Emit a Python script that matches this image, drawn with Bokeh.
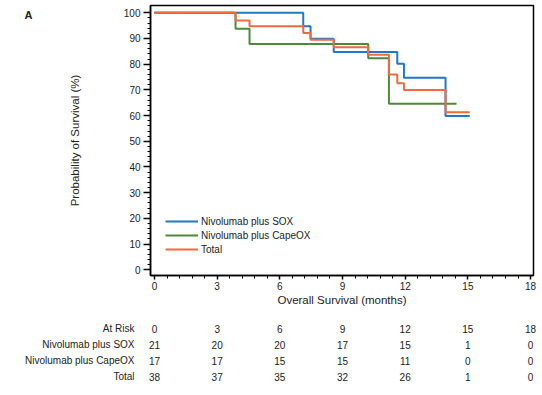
from bokeh.plotting import figure
from bokeh.models import Range1d, FixedTicker, Legend, LegendItem, ColumnDataSource
from bokeh.layouts import column, row
from bokeh.embed import file_html
from bokeh.resources import INLINE
from bokeh.core.properties import value

FONT = "Liberation Sans"

# Kaplan-Meier step data (months, survival %)
sox_time = [0, 7.12, 7.47, 8.58, 11.62, 11.94, 13.93, 15.09]
sox_surv = [100, 94.8, 89.9, 84.7, 80.2, 74.7, 59.8, 59.8]
capeox_time = [0, 3.88, 4.55, 10.23, 11.22, 14.46]
capeox_surv = [100, 93.8, 87.9, 82.3, 64.6, 64.6]
total_time = [0, 3.88, 4.55, 7.12, 7.47, 8.58, 10.23, 11.22, 11.62, 11.94, 13.93, 15.09]
total_surv = [100, 97.0, 94.8, 92.1, 89.5, 86.6, 83.7, 76.0, 72.6, 70.0, 61.3, 61.3]

series_names = ["Nivolumab plus SOX", "Nivolumab plus CapeOX", "Total"]
colors = ["#1f78c8", "#4c8a3a", "#f26a3b"]

x_ticks = [0, 3, 6, 9, 12, 15, 18]
y_ticks = [0, 10, 20, 30, 40, 50, 60, 70, 80, 90, 100]

# number at risk
risk_rows = ["At Risk", "Nivolumab plus SOX", "Nivolumab plus CapeOX", "Total"]
risk_sox = [21, 20, 20, 17, 15, 1, 0]
risk_capeox = [17, 17, 15, 15, 11, 0, 0]
risk_total = [38, 37, 35, 32, 26, 1, 0]

# panel letter figure
pa = figure(width=40, height=312, output_backend="svg", toolbar_location=None,
            x_range=Range1d(0, 40), y_range=Range1d(0, 312),
            x_axis_location=None, y_axis_location=None,
            min_border_left=0, min_border_right=0, min_border_top=0, min_border_bottom=0)
pa.grid.visible = False
pa.outline_line_color = None
pa.text(x=[28], y=[301], text=["A"], text_font=value(FONT), text_font_size="11px",
        text_font_style="bold", text_align="center", text_baseline="middle",
        text_color="#222222")

p = figure(width=502, height=312, output_backend="svg", toolbar_location=None,
           x_range=Range1d(-0.19, 18.14), y_range=Range1d(-2.22, 102.84),
           min_border_left=110, min_border_right=9, min_border_top=5, min_border_bottom=37)
p.grid.visible = False
p.outline_line_color = "black"
p.outline_line_width = 1.5

renderers = []
for (t, s), c in zip([(sox_time, sox_surv), (capeox_time, capeox_surv), (total_time, total_surv)], colors):
    r = p.step(t, s, mode="after", line_color=c, line_width=2)
    renderers.append(r)

minor_x = [i * 0.6 for i in range(31)]
minor_y = [i * 2 for i in range(51)]
p.xaxis.ticker = FixedTicker(ticks=x_ticks, minor_ticks=minor_x)
p.yaxis.ticker = FixedTicker(ticks=y_ticks, minor_ticks=minor_y)

for ax in (p.xaxis[0], p.yaxis[0]):
    ax.axis_line_width = 1.5
    ax.axis_line_color = "black"
    ax.major_tick_line_color = "black"
    ax.minor_tick_line_color = "black"
    ax.major_tick_line_width = 1.5
    ax.major_tick_in = 0
    ax.minor_tick_in = 0
    ax.minor_tick_out = 3
    ax.major_label_text_font = FONT
    ax.major_label_text_font_size = "10px"
    ax.major_label_text_color = "#222222"
    ax.axis_label_text_font = FONT
    ax.axis_label_text_font_size = "11.5px"
    ax.axis_label_text_font_style = "normal"
    ax.axis_label_text_color = "#222222"

p.xaxis.axis_label = "Overall Survival (months)"
p.xaxis.major_tick_out = 4
p.xaxis.major_label_standoff = 2
p.xaxis.axis_label_standoff = 1

p.yaxis.axis_label = "Probability of Survival (%)"
p.yaxis.major_tick_out = 7
p.yaxis.major_label_standoff = 3
p.yaxis.axis_label_standoff = 40

legend = Legend(items=[LegendItem(label=n, renderers=[r]) for n, r in zip(series_names, renderers)],
                location=(15, 19), border_line_color=None, background_fill_alpha=0,
                padding=0, margin=0, spacing=0, glyph_width=33, glyph_height=14,
                label_height=14, label_standoff=3,
                label_text_font=FONT, label_text_font_size="10px", label_text_color="#222222")
p.add_layout(legend)

# at-risk table (frame spans the full width; x in months, same scale as the plot)
row_pos = [3.5, 2.5, 1.5, 0.5]
p2 = figure(width=542, height=75, output_backend="svg", toolbar_location=None,
            x_range=Range1d(-7.372, 18.574), y_range=Range1d(0, 4),
            x_axis_location=None, y_axis_location=None,
            min_border_left=0, min_border_right=0, min_border_top=8, min_border_bottom=3)
p2.grid.visible = False
p2.outline_line_color = None

xs, ys, txt = [], [], []
for rp, vals in zip(row_pos, [x_ticks, risk_sox, risk_capeox, risk_total]):
    for xv, v in zip(x_ticks, vals):
        xs.append(xv)
        ys.append(rp)
        txt.append(str(v))
src = ColumnDataSource(dict(x=xs, y=ys, t=txt))
p2.text(x="x", y="y", text="t", source=src, text_align="center", text_baseline="middle",
        text_font=value(FONT), text_font_size="10px", text_color="#222222")

lab_src = ColumnDataSource(dict(x=[-0.957] * len(risk_rows), y=row_pos, t=risk_rows))
p2.text(x="x", y="y", text="t", source=lab_src, text_align="right", text_baseline="middle",
        text_font=value(FONT), text_font_size="10px", text_color="#222222")

layout = column(row(pa, p, spacing=0), p2, spacing=0)
open("out.html", "w").write(file_html(layout, INLINE))
